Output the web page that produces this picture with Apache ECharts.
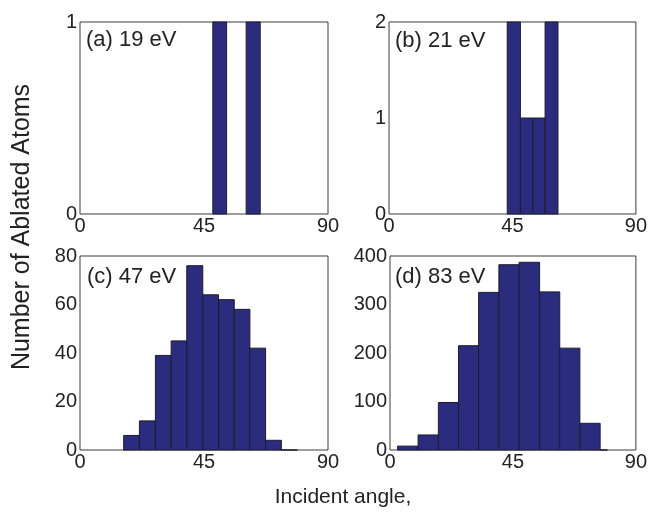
<!DOCTYPE html>
<html>
<head>
<meta charset="utf-8">
<title>Ablated atoms vs incident angle</title>
<script src="https://cdn.jsdelivr.net/npm/echarts@6/dist/echarts.min.js"></script>
<style>
  html, body { margin: 0; padding: 0; background: #fff; }
  #chart { width: 650px; height: 514px; }
</style>
</head>
<body>
<div id="chart"></div>
<script>
// Histogram bin edges (degrees) and counts for each impact energy
const edgesA = [48.2, 53.2, 60.3, 65.4];
const countsA = [1, null, 1];           // null: no bar between the two bins
const edgesB = [43.1, 47.9, 52.4, 56.9, 61.6];
const countsB = [2, 1, 1, 2];
const edgesC = [15.85, 21.56, 27.37, 33.08, 38.75, 44.56, 50.27, 55.97, 61.65, 67.36, 73.07, 78.9];
const countsC = [6, 12, 39, 45, 76, 64, 62, 58, 42, 4, 0];
const edgesD = [2.8, 10.28, 17.7, 25.07, 32.44, 39.86, 47.24, 54.76, 62.14, 69.51, 76.92, 79.58];
const countsD = [8, 31, 98, 215, 325, 382, 387, 326, 210, 55, 0];

const panelLabels = ['(a) 19 eV', '(b) 21 eV', '(c) 47 eV', '(d) 83 eV'];
const xTicks = [0, 45, 90];
const yMax = [1, 2, 80, 400];
const yStep = [1, 1, 20, 100];

const BAR = '#2b2c7e';
const EDGE = '#1c1c2c';
const FRAME = '#3a3a3a';
const FONT = '"Liberation Sans", Arial, Helvetica, sans-serif';

function bins(edges, counts) {
  const out = [];
  for (let i = 0; i < counts.length; i++) {
    if (counts[i] === null) continue;
    out.push([edges[i], edges[i + 1], counts[i]]);
  }
  return out;
}

function renderBin(params, api) {
  const p0 = api.coord([api.value(0), 0]);
  const p1 = api.coord([api.value(1), api.value(2)]);
  return {
    type: 'rect',
    shape: { x: p0[0], y: p1[1], width: p1[0] - p0[0], height: p0[1] - p1[1] },
    style: { fill: BAR, stroke: EDGE, lineWidth: 1 }
  };
}

const grids = [
  { left: 80, top: 22, width: 248, height: 192 },
  { left: 389, top: 22, width: 249, height: 192 },
  { left: 80, top: 256, width: 248, height: 194 },
  { left: 390, top: 256, width: 248, height: 194 }
].map(g => Object.assign({ show: true, borderColor: FRAME, borderWidth: 1, backgroundColor: '#fff' }, g));

const data = [bins(edgesA, countsA), bins(edgesB, countsB), bins(edgesC, countsC), bins(edgesD, countsD)];

const xAxes = grids.map((g, i) => ({
  type: 'value', gridIndex: i, min: xTicks[0], max: xTicks[xTicks.length - 1], interval: 45,
  axisLine: { show: false }, axisTick: { show: false }, splitLine: { show: false },
  axisLabel: { color: '#222', fontSize: 20, fontFamily: FONT, margin: 2 }
}));

const yAxes = grids.map((g, i) => ({
  type: 'value', gridIndex: i, min: 0, max: yMax[i], interval: yStep[i],
  axisLine: { show: false }, axisTick: { show: false }, splitLine: { show: false },
  axisLabel: { color: '#222', fontSize: 20, fontFamily: FONT, margin: 3 }
}));

const series = data.map((d, i) => ({
  type: 'custom', xAxisIndex: i, yAxisIndex: i,
  renderItem: renderBin, encode: { x: [0, 1], y: 2 }, data: d, silent: true
}));

const labelPos = [[86, 40], [395, 41], [87, 277], [395, 277]];
const graphic = panelLabels.map((t, i) => ({
  type: 'text', x: labelPos[i][0], y: labelPos[i][1], z: 10,
  style: { text: t, font: '22px ' + FONT, fill: '#222', textVerticalAlign: 'middle' }
}));
graphic.push({
  type: 'text', x: 22, y: 227, rotation: Math.PI / 2,
  style: { text: 'Number of Ablated Atoms', font: '25px ' + FONT, fill: '#222', textAlign: 'center', textVerticalAlign: 'middle' }
});
graphic.push({
  type: 'text', x: 343, y: 497,
  style: { text: 'Incident angle,', font: '21px ' + FONT, fill: '#222', textAlign: 'center', textVerticalAlign: 'middle' }
});

const chart = echarts.init(document.getElementById('chart'), null, { renderer: 'canvas' });
chart.setOption({
  animation: false,
  backgroundColor: '#fff',
  grid: grids,
  xAxis: xAxes,
  yAxis: yAxes,
  series: series,
  graphic: graphic
});
</script>
</body>
</html>
